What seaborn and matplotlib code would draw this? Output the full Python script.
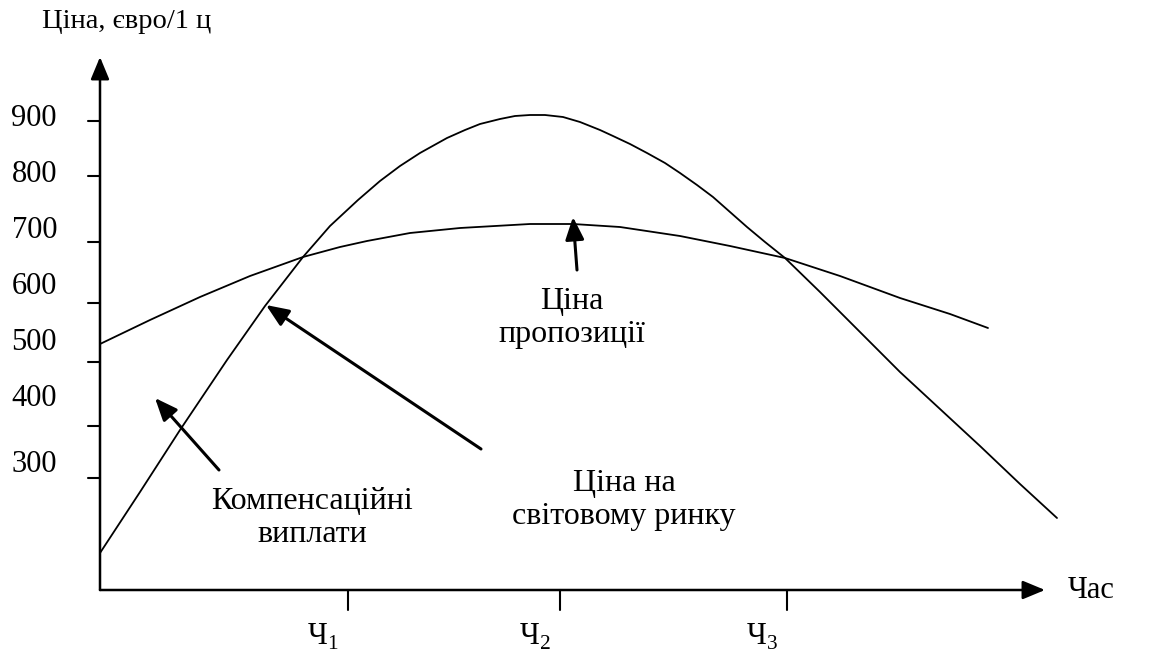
import numpy as np
import pandas as pd
import matplotlib
matplotlib.use("Agg")
import matplotlib.pyplot as plt
import seaborn as sns

# Diagram units: origin where the two axes meet, y up
world_x = [0, 40, 80, 127, 165, 203, 230, 258, 280, 300, 320, 347, 365, 380, 400, 415,
           430, 445, 463, 480, 500, 513, 530, 547, 565, 580, 597, 613, 630, 647, 665,
           685, 720, 760, 800, 840, 880, 920, 957]
world_y = [37, 98, 160, 230, 284, 333, 364, 390, 409, 424, 437, 452, 460, 466, 471, 474,
           475, 475, 473, 468, 460, 454, 446, 437, 427, 417, 405, 393, 378, 363, 348,
           332, 298, 258, 218, 181, 144, 106, 72]

supply_x = [0, 50, 100, 150, 203, 240, 267, 310, 360, 430, 473, 520, 580, 630, 685,
            740, 800, 850, 888]
supply_y = [246, 270, 293, 314, 333, 343, 349, 357, 362, 366, 366, 363, 354, 344, 332,
            314, 292, 276, 262]

price_labels = ["900", "800", "700", "600", "500", "400", "300"]
price_tick_pos = [469, 414, 348, 287, 228, 164, 112]
price_label_pos = [471, 415, 359, 303, 248, 191, 126]

time_tick_pos = [248, 460, 687]
time_labels = ["Ч$_\\mathrm{1}$", "Ч$_\\mathrm{2}$", "Ч$_\\mathrm{3}$"]

sns.set_theme(style="white")
plt.rcParams["font.family"] = ["Liberation Serif", "DejaVu Serif"]
plt.rcParams["mathtext.fontset"] = "custom"
plt.rcParams["mathtext.rm"] = "Liberation Serif"
plt.rcParams["text.color"] = "black"

fig = plt.figure(figsize=(11.5, 6.5), dpi=100)
ax = fig.add_axes([0, 0, 1, 1])
ax.set_xlim(-100, 1050)
ax.set_ylim(-60, 590)
ax.axis("off")

curves = pd.concat([
    pd.DataFrame({"t": world_x, "p": world_y, "curve": "world"}),
    pd.DataFrame({"t": supply_x, "p": supply_y, "curve": "supply"}),
])
for name, grp in curves.groupby("curve"):
    sns.lineplot(data=grp, x="t", y="p", sort=False, estimator=None,
                 color="black", linewidth=1.3, ax=ax)
ax.set_xlabel("")
ax.set_ylabel("")

# axes with arrow heads
axis_style = dict(arrowstyle="-|>,head_length=0.65,head_width=0.27", color="black",
                  lw=1.8, mutation_scale=21, shrinkA=0, shrinkB=0)
ax.annotate("", xy=(0, 533), xytext=(0, 0), arrowprops=axis_style)
ax.annotate("", xy=(945, 0), xytext=(0, 0), arrowprops=axis_style)

# price ticks and labels
for tp, lp, lab in zip(price_tick_pos, price_label_pos, price_labels):
    ax.plot([-12, 0], [tp, tp], color="black", lw=1.5)
    ax.text(-43, lp, lab, ha="right", va="center", fontsize=22, color="black")

# time ticks and labels
for tp, lab in zip(time_tick_pos, time_labels):
    ax.plot([tp, tp], [0, -20], color="black", lw=1.5)
    ax.text(tp - 25, -47, lab, ha="center", va="center", fontsize=22, color="black")

ax.text(-58, 568, "Ціна, євро/1 ц", ha="left", va="center", fontsize=20.5, color="black")
ax.text(968, 0, "Час", ha="left", va="center", fontsize=22, color="black")

# annotation arrows
pointer = dict(arrowstyle="-|>,head_length=0.65,head_width=0.27", color="black",
               lw=2.2, mutation_scale=21, shrinkA=0, shrinkB=0)
ax.annotate("", xy=(55, 192), xytext=(119, 120), arrowprops=pointer)
ax.annotate("", xy=(166, 285), xytext=(381, 141), arrowprops=pointer)
ax.annotate("", xy=(473, 373), xytext=(477, 320), arrowprops=pointer)

ax.text(472, 272, "Ціна\nпропозиції", ha="center", va="center",
        fontsize=23, linespacing=1.2, color="black")
ax.text(212, 72, "Компенсаційні\nвиплати", ha="center", va="center",
        fontsize=23, linespacing=1.2, color="black")
ax.text(524, 90, "Ціна на\nсвітовому ринку", ha="center", va="center",
        fontsize=23, linespacing=1.2, color="black")

fig.savefig("out.png", dpi=100, facecolor="white")
